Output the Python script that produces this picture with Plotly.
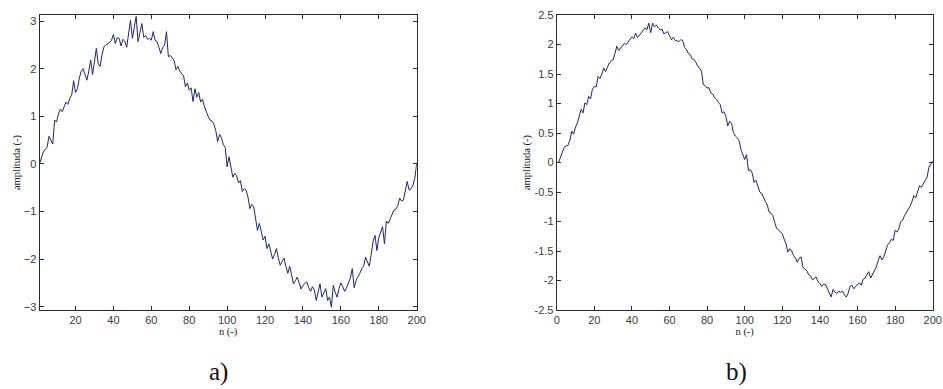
import plotly.graph_objects as go

n = list(range(1, 201))

amp_a = [
    0.00, 0.15, 0.25, 0.30, 0.35, 0.58, 0.50, 0.42, 0.92, 0.88,
    1.05, 1.15, 1.10, 1.22, 1.30, 1.25, 1.38, 1.45, 1.75, 1.50,
    1.58, 1.80, 1.95, 2.00, 1.90, 1.76, 1.95, 2.18, 1.88, 2.20,
    2.43, 2.10, 2.05, 2.30, 2.46, 2.50, 2.52, 2.55, 2.60, 2.72,
    2.53, 2.65, 2.64, 2.48, 2.62, 2.58, 2.45, 2.80, 3.02, 2.64,
    2.85, 3.10, 2.57, 2.80, 2.95, 2.66, 2.70, 2.62, 2.64, 2.60,
    2.78, 2.60, 2.57, 2.45, 2.32, 2.45, 2.50, 2.78, 2.25, 2.28,
    2.22, 2.18, 1.98, 2.05, 1.95, 1.90, 1.85, 1.62, 1.70, 1.55,
    1.60, 1.31, 1.58, 1.40, 1.50, 1.30, 1.36, 1.20, 1.08, 1.00,
    0.92, 0.90, 0.84, 0.70, 0.47, 0.62, 0.55, 0.40, 0.35, -0.06,
    0.15, -0.10, -0.28, -0.20, -0.25, -0.40, -0.35, -0.58, -0.52, -0.55,
    -0.70, -0.94, -0.85, -0.90, -1.11, -1.40, -1.25, -1.45, -1.60, -1.52,
    -1.78, -1.68, -1.85, -2.00, -1.90, -1.78, -1.98, -2.13, -2.05, -1.98,
    -2.15, -2.30, -2.15, -2.35, -2.52, -2.45, -2.38, -2.50, -2.63, -2.55,
    -2.52, -2.48, -2.60, -2.68, -2.58, -2.65, -2.87, -2.70, -2.52, -2.80,
    -2.72, -2.62, -2.87, -2.80, -3.01, -2.55, -2.70, -2.80, -2.62, -2.50,
    -2.58, -2.68, -2.60, -2.50, -2.40, -2.20, -2.60, -2.45, -2.38, -2.30,
    -2.20, -2.15, -1.96, -2.05, -2.15, -1.90, -1.62, -1.50, -1.82, -1.55,
    -1.45, -1.32, -1.68, -1.20, -1.25, -1.15, -1.08, -0.97, -0.95, -0.88,
    -0.72, -0.78, -0.76, -0.55, -0.37, -0.55, -0.52, -0.45, -0.30, 0.00,
]

amp_b = [
    0.00, 0.10, 0.18, 0.26, 0.28, 0.29, 0.38, 0.53, 0.48, 0.60,
    0.67, 0.80, 0.90, 0.84, 1.01, 0.98, 1.12, 1.08, 1.24, 1.29,
    1.28, 1.46, 1.42, 1.50, 1.60, 1.54, 1.62, 1.69, 1.72, 1.74,
    1.85, 1.97, 1.90, 1.94, 1.98, 2.02, 2.00, 2.05, 2.10, 2.13,
    2.10, 2.19, 2.12, 2.16, 2.20, 2.22, 2.28, 2.25, 2.36, 2.20,
    2.36, 2.30, 2.33, 2.28, 2.25, 2.26, 2.18, 2.20, 2.22, 2.15,
    2.08, 2.12, 2.07, 2.06, 2.05, 2.08, 2.07, 1.95, 1.92, 1.85,
    1.83, 1.76, 1.75, 1.70, 1.63, 1.60, 1.55, 1.32, 1.30, 1.26,
    1.27, 1.18, 1.16, 1.10, 1.07, 1.02, 0.98, 0.84, 0.86, 0.78,
    0.62, 0.70, 0.66, 0.51, 0.45, 0.42, 0.37, 0.22, 0.15, 0.05,
    0.13, -0.14, -0.12, -0.18, -0.34, -0.30, -0.40, -0.50, -0.52, -0.60,
    -0.66, -0.72, -0.84, -0.86, -0.90, -1.02, -1.12, -1.14, -1.18, -1.21,
    -1.30, -1.38, -1.52, -1.46, -1.50, -1.58, -1.62, -1.69, -1.62, -1.60,
    -1.78, -1.80, -1.83, -1.90, -1.92, -1.99, -1.96, -1.94, -2.02, -2.05,
    -2.10, -2.06, -2.07, -2.14, -2.18, -2.28, -2.15, -2.20, -2.22, -2.18,
    -2.20, -2.18, -2.24, -2.28, -2.22, -2.10, -2.08, -2.14, -2.10, -2.06,
    -2.04, -2.08, -1.98, -1.96, -1.91, -1.85, -1.96, -1.90, -1.82, -1.77,
    -1.66, -1.58, -1.65, -1.60, -1.50, -1.40, -1.36, -1.30, -1.32, -1.15,
    -1.18, -1.12, -1.00, -0.98, -0.90, -0.85, -0.79, -0.74, -0.66, -0.56,
    -0.60, -0.48, -0.39, -0.42, -0.36, -0.30, -0.25, -0.08, -0.02, 0.02,
]

ticks_x_a = [20, 40, 60, 80, 100, 120, 140, 160, 180, 200]
ticks_y_a = [-3, -2, -1, 0, 1, 2, 3]
ticks_x_b = [0, 20, 40, 60, 80, 100, 120, 140, 160, 180, 200]
ticks_y_b = [-2.5, -2, -1.5, -1, -0.5, 0, 0.5, 1, 1.5, 2, 2.5]
tick_text_y_b = ["-2.5", "-2", "-1.5", "-1", "-0.5", "0", "0.5", "1", "1.5", "2", "2.5"]

W, H = 943, 389
ML, MR, MT, MB = 39, 10, 15, 79
PW, PH = W - ML - MR, H - MT - MB
line_color = "#23236e"


def px_x(px):
    return (px - ML) / PW


def px_y(py):
    return (H - MB - py) / PH


fig = go.Figure()
fig.add_trace(go.Scatter(x=n, y=amp_a, mode="lines", line=dict(color=line_color, width=1),
                         xaxis="x", yaxis="y", showlegend=False))
fig.add_trace(go.Scatter(x=n, y=amp_b, mode="lines", line=dict(color=line_color, width=1),
                         xaxis="x2", yaxis="y2", showlegend=False))

tick_font = dict(family="Liberation Sans, Arial, sans-serif", size=11, color="#3a3a3a")
label_font = dict(family="Liberation Serif, serif", size=10.5, color="#222222")

common_axis = dict(showline=True, linecolor="#2a2a2a", linewidth=1, mirror="ticks",
                   ticks="inside", ticklen=4, tickcolor="#2a2a2a", showgrid=False,
                   zeroline=False, tickfont=tick_font, automargin=False)

fig.update_layout(
    width=W, height=H,
    margin=dict(l=ML, r=MR, t=MT, b=MB),
    paper_bgcolor="white", plot_bgcolor="white",
    xaxis=dict(domain=[px_x(39.5), px_x(416.7)], range=[1, 200], tickvals=ticks_x_a,
               title=dict(text="n (-)", font=label_font, standoff=0), anchor="y", **common_axis),
    yaxis=dict(domain=[0, 1], range=[-3.07, 3.13], tickvals=ticks_y_a,
               title=dict(text="amplituda (-)", font=label_font, standoff=1), anchor="x", **common_axis),
    xaxis2=dict(domain=[px_x(556.7), px_x(932.7)], range=[0, 200], tickvals=ticks_x_b,
                title=dict(text="n (-)", font=label_font, standoff=0), anchor="y2", **common_axis),
    yaxis2=dict(domain=[0, 1], range=[-2.5, 2.5], tickvals=ticks_y_b, ticktext=tick_text_y_b,
                title=dict(text="amplituda (-)", font=label_font, standoff=1), anchor="x2", **common_axis),
    annotations=[
        dict(text="a)", x=px_x(218), y=px_y(372), xref="paper", yref="paper",
             xanchor="center", yanchor="middle", showarrow=False, borderpad=0,
             font=dict(family="Liberation Serif, serif", size=25, color="#111111")),
        dict(text="b)", x=px_x(736), y=px_y(372), xref="paper", yref="paper",
             xanchor="center", yanchor="middle", showarrow=False, borderpad=0,
             font=dict(family="Liberation Serif, serif", size=25, color="#111111")),
    ],
)

fig.write_html("out.html", config={"displayModeBar": False},
               post_script="document.body.style.margin='0';document.body.style.padding='0';")
